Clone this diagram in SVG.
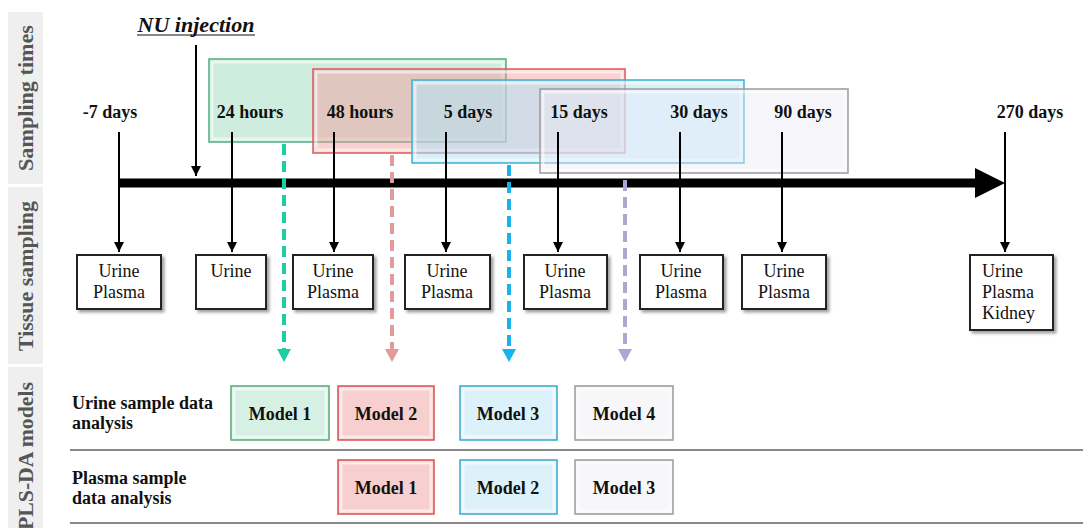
<svg xmlns="http://www.w3.org/2000/svg" width="1083" height="528" viewBox="0 0 1083 528">
<defs>
<style>
.side{fill:#efefef}
.sidet{font-family:"Liberation Serif",serif;font-size:22px;font-weight:bold;fill:#555;text-anchor:middle}
.time{font-family:"Liberation Serif",serif;font-size:18px;font-weight:bold;fill:#111;text-anchor:middle}
.box{fill:#fff;stroke:#222;stroke-width:2;filter:url(#sh)}
.bt{font-family:"Liberation Serif",serif;font-size:18px;fill:#111;text-anchor:middle}
.bl{font-family:"Liberation Serif",serif;font-size:18px;fill:#111;text-anchor:start}
.tick{stroke:#000;stroke-width:2;fill:none}
.row{font-family:"Liberation Serif",serif;font-size:18px;font-weight:bold;fill:#111}
.mt{font-family:"Liberation Serif",serif;font-size:18px;font-weight:bold;fill:#111;text-anchor:middle}
.sep{stroke:#888;stroke-width:2}
.bev{fill:none;stroke:#fff;stroke-opacity:0.55;stroke-width:3}
</style>
<filter id="sh" x="-10%" y="-10%" width="130%" height="130%">
<feDropShadow dx="2.5" dy="2.5" stdDeviation="1.5" flood-color="#777" flood-opacity="0.7"/>
</filter>
<marker id="ah" viewBox="0 0 10 10" refX="10" refY="5" markerWidth="5" markerHeight="5" orient="auto" markerUnits="strokeWidth">
<path d="M0,0 L10,5 L0,10 z" fill="#000"/>
</marker>
</defs>

<g id="side-panels">
<rect class="side" x="8" y="12" width="35" height="172"/>
<text class="sidet" transform="translate(33,98) rotate(-90)" textLength="146" lengthAdjust="spacingAndGlyphs">Sampling times</text>
<rect class="side" x="8" y="187" width="35" height="177"/>
<text class="sidet" transform="translate(33,276) rotate(-90)" textLength="150" lengthAdjust="spacingAndGlyphs">Tissue sampling</text>
<rect class="side" x="8" y="367" width="35" height="165"/>
<text class="sidet" transform="translate(33,456) rotate(-90)" textLength="148" lengthAdjust="spacingAndGlyphs">PLS-DA models</text>
</g>

<g id="windows">
<rect x="209" y="59" width="297" height="83" fill="#9fdcbd" fill-opacity="0.5" stroke="#4fb080" stroke-width="1.5"/>
<rect x="212" y="62" width="291" height="77" class="bev"/>
<rect x="313" y="69" width="312" height="84" fill="#f29a9a" fill-opacity="0.45" stroke="#dc5858" stroke-width="1.5"/>
<rect x="316" y="72" width="306" height="78" class="bev"/>
<rect x="412" y="80" width="332" height="83" fill="#b5e4f7" fill-opacity="0.55" stroke="#3fb0d4" stroke-width="1.5"/>
<rect x="415" y="83" width="326" height="77" class="bev"/>
<rect x="540" y="89" width="308" height="84" fill="#ececf4" fill-opacity="0.45" stroke="#9a9aa0" stroke-width="1.5"/>
<rect x="543" y="92" width="302" height="78" class="bev"/>
</g>

<g id="injection">
<text x="196" y="32" font-family="'Liberation Serif',serif" font-size="20" font-weight="bold" font-style="italic" text-anchor="middle" fill="#111" textLength="117" lengthAdjust="spacingAndGlyphs">NU injection</text>
<line x1="137" y1="35" x2="255" y2="35" stroke="#111" stroke-width="1.2"/>
</g>

<g id="time-labels">
<text class="time" x="110" y="118">-7 days</text>
<text class="time" x="250" y="118">24 hours</text>
<text class="time" x="360" y="118">48 hours</text>
<text class="time" x="468" y="118">5 days</text>
<text class="time" x="579" y="118">15 days</text>
<text class="time" x="699" y="118">30 days</text>
<text class="time" x="803" y="118">90 days</text>
<text class="time" x="1030" y="118">270 days</text>
</g>

<g id="connectors">
<line x1="118" y1="183" x2="978" y2="183" stroke="#000" stroke-width="9"/>
<polygon points="975,168 1005,183 975,198" fill="#000"/>
<line class="tick" x1="196" y1="45" x2="196" y2="176" marker-end="url(#ah)" stroke-width="3"/>
<line class="tick" x1="119" y1="132" x2="119" y2="252" marker-end="url(#ah)"/>
<line class="tick" x1="232" y1="132" x2="232" y2="252" marker-end="url(#ah)"/>
<line class="tick" x1="334" y1="132" x2="334" y2="252" marker-end="url(#ah)"/>
<line class="tick" x1="446" y1="132" x2="446" y2="252" marker-end="url(#ah)"/>
<line class="tick" x1="558" y1="132" x2="558" y2="252" marker-end="url(#ah)"/>
<line class="tick" x1="680" y1="132" x2="680" y2="252" marker-end="url(#ah)"/>
<line class="tick" x1="782" y1="132" x2="782" y2="252" marker-end="url(#ah)"/>
<line class="tick" x1="1005" y1="132" x2="1005" y2="252" marker-end="url(#ah)"/>
<line x1="284" y1="144" x2="284" y2="351" stroke="#1ccf9e" stroke-width="4" stroke-dasharray="11,6"/>
<polygon points="277,349 291,349 284,362" fill="#1ccf9e"/>
<line x1="392" y1="155" x2="392" y2="351" stroke="#e39a9a" stroke-width="4" stroke-dasharray="11,6"/>
<polygon points="385,349 399,349 392,362" fill="#e39a9a"/>
<line x1="509" y1="165" x2="509" y2="351" stroke="#18b2ee" stroke-width="4" stroke-dasharray="11,6"/>
<polygon points="502,349 516,349 509,362" fill="#18b2ee"/>
<line x1="625" y1="180" x2="625" y2="351" stroke="#b2a4d2" stroke-width="4" stroke-dasharray="11,6"/>
<polygon points="618,349 632,349 625,362" fill="#b2a4d2"/>
</g>

<g id="tissue-m7">
<rect class="box" x="77" y="255" width="84" height="54"/>
<text class="bt" x="119" y="277">Urine</text><text class="bt" x="119" y="298">Plasma</text>
</g>
<g id="tissue-24h">
<rect class="box" x="196" y="255" width="70" height="54"/>
<text class="bt" x="231" y="277">Urine</text>
</g>
<g id="tissue-48h">
<rect class="box" x="293" y="255" width="80" height="54"/>
<text class="bt" x="333" y="277">Urine</text><text class="bt" x="333" y="298">Plasma</text>
</g>
<g id="tissue-5d">
<rect class="box" x="405" y="255" width="85" height="54"/>
<text class="bt" x="447" y="277">Urine</text><text class="bt" x="447" y="298">Plasma</text>
</g>
<g id="tissue-15d">
<rect class="box" x="524" y="255" width="83" height="54"/>
<text class="bt" x="565" y="277">Urine</text><text class="bt" x="565" y="298">Plasma</text>
</g>
<g id="tissue-30d">
<rect class="box" x="640" y="255" width="83" height="54"/>
<text class="bt" x="681" y="277">Urine</text><text class="bt" x="681" y="298">Plasma</text>
</g>
<g id="tissue-90d">
<rect class="box" x="742" y="255" width="84" height="54"/>
<text class="bt" x="784" y="277">Urine</text><text class="bt" x="784" y="298">Plasma</text>
</g>
<g id="tissue-270d">
<rect class="box" x="970" y="255" width="83" height="75"/>
<text class="bl" x="982" y="277">Urine</text>
<text class="bl" x="982" y="298">Plasma</text>
<text class="bl" x="982" y="319">Kidney</text>
</g>

<g id="rows">
<text class="row" x="72" y="409">Urine sample data</text>
<text class="row" x="72" y="429">analysis</text>
<text class="row" x="72" y="484">Plasma sample</text>
<text class="row" x="72" y="504">data analysis</text>
<line class="sep" x1="70" y1="450" x2="1083" y2="450"/>
<line class="sep" x1="70" y1="523" x2="1083" y2="523"/>
</g>

<g id="urine-model1">
<rect x="231" y="386" width="98" height="54" fill="#d6f1e4" stroke="#5aa878" stroke-width="1.5"/>
<rect x="234" y="389" width="92" height="48" class="bev"/>
<text class="mt" x="280" y="420">Model 1</text>
</g>
<g id="urine-model2">
<rect x="338" y="386" width="96" height="54" fill="#f8cfcf" stroke="#d65050" stroke-width="1.5"/>
<rect x="341" y="389" width="90" height="48" class="bev"/>
<text class="mt" x="386" y="420">Model 2</text>
</g>
<g id="urine-model3">
<rect x="460" y="386" width="97" height="54" fill="#dcf1fa" stroke="#3aa8cc" stroke-width="1.5"/>
<rect x="463" y="389" width="91" height="48" class="bev"/>
<text class="mt" x="508" y="420">Model 3</text>
</g>
<g id="urine-model4">
<rect x="575" y="386" width="98" height="54" fill="#f7f7fa" stroke="#999" stroke-width="1.5"/>
<rect x="578" y="389" width="92" height="48" class="bev"/>
<text class="mt" x="624" y="420">Model 4</text>
</g>
<g id="plasma-model1">
<rect x="338" y="460" width="96" height="54" fill="#f8cfcf" stroke="#d65050" stroke-width="1.5"/>
<rect x="341" y="463" width="90" height="48" class="bev"/>
<text class="mt" x="386" y="494">Model 1</text>
</g>
<g id="plasma-model2">
<rect x="460" y="460" width="97" height="54" fill="#dcf1fa" stroke="#3aa8cc" stroke-width="1.5"/>
<rect x="463" y="463" width="91" height="48" class="bev"/>
<text class="mt" x="508" y="494">Model 2</text>
</g>
<g id="plasma-model3">
<rect x="575" y="460" width="98" height="54" fill="#f7f7fa" stroke="#999" stroke-width="1.5"/>
<rect x="578" y="463" width="92" height="48" class="bev"/>
<text class="mt" x="624" y="494">Model 3</text>
</g>
</svg>
